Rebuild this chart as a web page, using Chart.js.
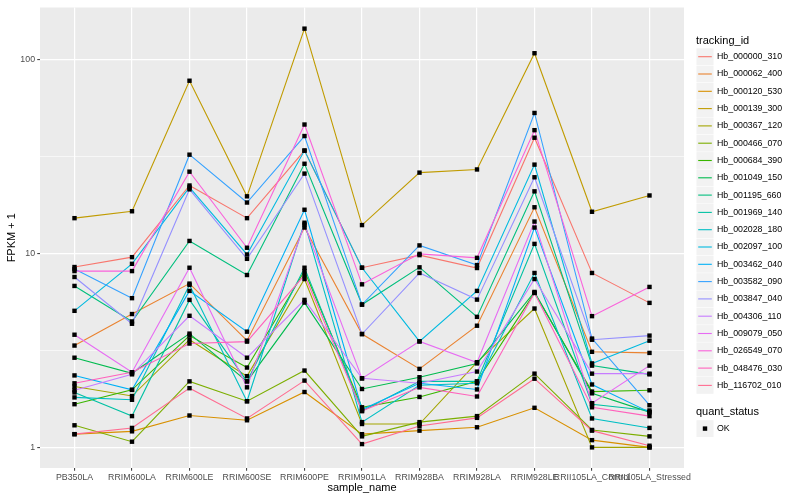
<!DOCTYPE html>
<html>
<head>
<meta charset="utf-8">
<script src="https://cdn.jsdelivr.net/npm/chart.js@4.4.1/dist/chart.umd.min.js"></script>
<style>
  html, body { margin: 0; padding: 0; background: #fff; }
  #wrap { width: 800px; height: 500px; }
</style>
</head>
<body>
<div id="wrap"><canvas id="fpkmChart" width="800" height="500"></canvas></div>
<script>
// categories
const sampleNames = ['PB350LA','RRIM600LA','RRIM600LE','RRIM600SE','RRIM600PE','RRIM901LA',
  'RRIM928BA','RRIM928LA','RRIM928LE','RRII105LA_Control','RRII105LA_Stressed'];

const trackingIds = ['Hb_000000_310','Hb_000062_400','Hb_000120_530','Hb_000139_300','Hb_000367_120',
  'Hb_000466_070','Hb_000684_390','Hb_001049_150','Hb_001195_660','Hb_001969_140','Hb_002028_180',
  'Hb_002097_100','Hb_003462_040','Hb_003582_090','Hb_003847_040','Hb_004306_110','Hb_009079_050',
  'Hb_026549_070','Hb_048476_030','Hb_116702_010'];

// FPKM + 1, one array per gene
const hb_000000_310 = [8.51, 9.57, 22.4, 15.2, 33.9, 8.44, 9.80, 8.41, 39.5, 7.93, 5.56];
const hb_000062_400 = [3.35, 4.87, 6.99, 3.55, 13.6, 3.84, 2.54, 4.24, 17.3, 3.11, 3.07];
const hb_000120_530 = [1.17, 1.21, 1.46, 1.38, 1.93, 1.17, 1.22, 1.27, 1.60, 1.09, 1.00];
const hb_000139_300 = [15.2, 16.5, 77.7, 19.7, 144.2, 14.0, 26.1, 27.1, 107.7, 16.4, 19.9];
const hb_000367_120 = [2.06, 1.84, 3.59, 2.33, 7.38, 1.32, 1.32, 2.75, 5.20, 1.00, 1.00];
const hb_000466_070 = [1.30, 1.07, 2.19, 1.73, 2.49, 1.14, 1.35, 1.45, 2.40, 1.23, 1.14];
const hb_000684_390 = [1.67, 1.98, 3.77, 2.58, 8.11, 1.61, 1.82, 2.19, 6.26, 1.94, 1.97];
const hb_001049_150 = [2.90, 2.41, 3.86, 2.19, 5.58, 2.00, 2.30, 2.71, 6.33, 1.90, 1.52];
const hb_001195_660 = [6.80, 4.46, 11.6, 7.74, 29.0, 5.45, 8.48, 4.71, 20.9, 2.64, 2.38];
const hb_001969_140 = [1.92, 1.45, 5.76, 2.19, 8.44, 1.54, 2.19, 2.19, 11.2, 1.67, 1.55];
const hb_002028_180 = [1.81, 1.76, 6.88, 1.73, 14.4, 1.35, 2.09, 2.14, 7.93, 1.41, 1.26];
const hb_002097_100 = [5.06, 8.84, 21.9, 9.88, 33.9, 8.44, 3.52, 6.41, 28.7, 2.71, 3.55];
const hb_003462_040 = [2.35, 1.98, 6.41, 3.95, 16.8, 1.57, 2.14, 1.99, 13.6, 2.11, 1.52];
const hb_003582_090 = [8.31, 5.88, 32.3, 18.3, 40.3, 5.45, 11.0, 8.71, 53.0, 3.64, 1.65];
const hb_003847_040 = [7.56, 4.34, 21.4, 9.38, 25.8, 3.84, 7.93, 5.78, 24.7, 3.59, 3.77];
const hb_004306_110 = [1.97, 2.38, 4.77, 2.90, 5.76, 2.27, 2.14, 2.46, 7.38, 2.40, 2.40];
const hb_009079_050 = [3.81, 2.44, 8.44, 2.04, 14.1, 2.27, 3.52, 2.74, 14.6, 1.69, 2.64];
const hb_026549_070 = [8.11, 8.11, 26.4, 10.7, 46.2, 6.93, 9.95, 9.49, 43.2, 4.75, 6.72];
const hb_048476_030 = [2.14, 2.44, 3.43, 3.51, 7.74, 1.54, 2.04, 1.83, 6.26, 1.61, 1.45];
const hb_116702_010 = [1.17, 1.26, 2.02, 1.41, 2.21, 1.04, 1.29, 1.42, 2.26, 1.22, 1.02];

const seriesValues = [hb_000000_310, hb_000062_400, hb_000120_530, hb_000139_300, hb_000367_120,
  hb_000466_070, hb_000684_390, hb_001049_150, hb_001195_660, hb_001969_140, hb_002028_180,
  hb_002097_100, hb_003462_040, hb_003582_090, hb_003847_040, hb_004306_110, hb_009079_050,
  hb_026549_070, hb_048476_030, hb_116702_010];

// tick labels
const yMajor = [1, 10, 100];
const yMinor = [3.1623, 31.623];

// ggplot hue palette for 20 groups
const palette = ['#F8766D','#EA8331','#D89000','#C09B00','#A3A500','#7CAE00','#39B600','#00BB4E',
  '#00BF7D','#00C1A3','#00BFC4','#00BAE0','#00B0F6','#35A2FF','#9590FF','#C77CFF','#E76BF3',
  '#FA62DB','#FF62BC','#FF6C91'];

const FONT = '"Liberation Sans", Arial, sans-serif';

const datasets = seriesValues.map((vals, i) => ({
  label: trackingIds[i],
  data: vals.map((v, k) => ({ x: k, y: v })),
  borderColor: palette[i],
  backgroundColor: palette[i],
  borderWidth: 1.1,
  pointRadius: 0,
  tension: 0,
  fill: false,
  order: seriesValues.length - 1 - i
}));

// panel background, points on top of every line, titles and legend
const ggDecor = {
  id: 'ggDecor',
  beforeDraw(chart) {
    const { ctx, chartArea: a } = chart;
    ctx.save();
    ctx.fillStyle = '#EBEBEB';
    ctx.fillRect(a.left, a.top, a.right - a.left, a.bottom - a.top);
    ctx.restore();
  },
  afterDatasetsDraw(chart) {
    const ctx = chart.ctx;
    ctx.save();
    ctx.fillStyle = '#000';
    chart.data.datasets.forEach((ds, i) => {
      chart.getDatasetMeta(i).data.forEach(pt => {
        ctx.fillRect(pt.x - 2.2, pt.y - 2.2, 4.4, 4.4);
      });
    });
    ctx.restore();
  },
  afterDraw(chart) {
    const { ctx, chartArea: a } = chart;
    ctx.save();
    ctx.fillStyle = '#000';
    ctx.textBaseline = 'middle';
    ctx.font = '11px ' + FONT;
    // axis titles
    ctx.textAlign = 'center';
    ctx.fillText('sample_name', (a.left + a.right) / 2, 488);
    ctx.save();
    ctx.translate(12, (a.top + a.bottom) / 2);
    ctx.rotate(-Math.PI / 2);
    ctx.fillText('FPKM + 1', 0, 0);
    ctx.restore();

    // legend: tracking_id
    ctx.textAlign = 'left';
    ctx.fillText('tracking_id', 696, 40.5);
    ctx.font = '8.8px ' + FONT;
    trackingIds.forEach((id, i) => {
      const cy = 56.7 + i * 17.3;
      ctx.fillStyle = '#F2F2F2';
      ctx.fillRect(696.5, cy - 8.4, 17, 16.8);
      ctx.strokeStyle = palette[i];
      ctx.lineWidth = 1.1;
      ctx.beginPath();
      ctx.moveTo(698.2, cy);
      ctx.lineTo(711.8, cy);
      ctx.stroke();
      ctx.fillStyle = '#000';
      ctx.fillText(id, 717, cy);
    });

    // legend: quant_status
    ctx.font = '11px ' + FONT;
    ctx.fillText('quant_status', 696, 412);
    ctx.fillStyle = '#F2F2F2';
    ctx.fillRect(696.5, 428.6 - 8.4, 17, 16.8);
    ctx.fillStyle = '#000';
    ctx.fillRect(705 - 2.2, 428.6 - 2.2, 4.4, 4.4);
    ctx.font = '8.8px ' + FONT;
    ctx.fillText('OK', 717, 428.6);
    ctx.restore();
  }
};

const config = {
  type: 'line',
  data: { datasets },
  options: {
    responsive: false,
    animation: false,
    layout: { padding: { left: 0, right: 116, top: 5, bottom: 0 } },
    scales: {
      x: {
        type: 'linear',
        min: -0.6,
        max: 10.6,
        afterBuildTicks: scale => {
          scale.ticks = sampleNames.map((n, k) => ({ value: k }));
        },
        afterFit: scale => { scale.height = 32; },
        border: { display: false },
        grid: {
          color: '#FFFFFF',
          lineWidth: 1.2,
          tickColor: '#333333',
          tickLength: 2.75,
          tickWidth: 1
        },
        ticks: {
          autoSkip: false,
          maxRotation: 0,
          minRotation: 0,
          padding: 2,
          color: '#4D4D4D',
          font: { family: FONT, size: 8.8 },
          callback: v => sampleNames[v]
        }
      },
      y: {
        type: 'logarithmic',
        min: 0.783,
        max: 185.4,
        afterBuildTicks: scale => {
          scale.ticks = yMajor.concat(yMinor).sort((p, q) => p - q).map(v => ({ value: v }));
        },
        afterFit: scale => { scale.width = 40; },
        border: { display: false },
        grid: {
          color: '#FFFFFF',
          lineWidth: c => (yMajor.includes(c.tick && c.tick.value) ? 1.2 : 0.6),
          tickColor: c => (yMajor.includes(c.tick && c.tick.value) ? '#333333' : 'rgba(0,0,0,0)'),
          tickLength: 2.75,
          tickWidth: 1
        },
        ticks: {
          padding: 2.2,
          color: '#4D4D4D',
          font: { family: FONT, size: 8.8 },
          callback: v => (yMajor.includes(v) ? String(v) : '')
        }
      }
    },
    plugins: {
      legend: { display: false },
      tooltip: { enabled: false }
    }
  },
  plugins: [ggDecor]
};

const fpkmChart = new Chart(document.getElementById('fpkmChart'), config);
</script>
</body>
</html>
